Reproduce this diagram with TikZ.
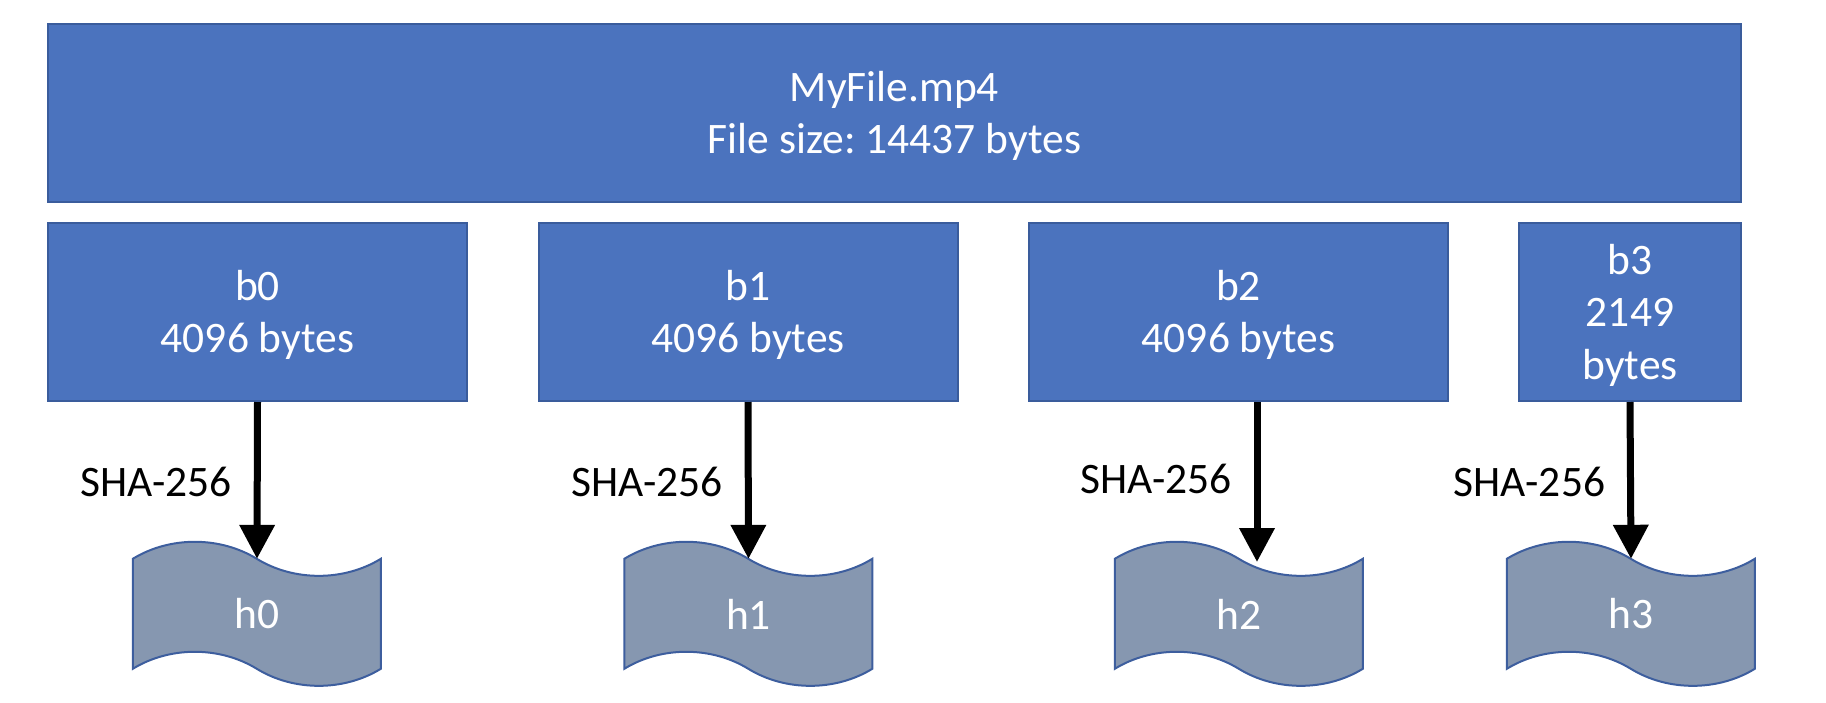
\documentclass[tikz,border=0pt]{standalone}
\usepackage{fontspec}
\setmainfont{Carlito}
\frenchspacing
\usetikzlibrary{arrows.meta,backgrounds}
\definecolor{boxblue}{HTML}{4B73BE}
\definecolor{boxedge}{HTML}{3A5C9C}
\definecolor{tapefill}{HTML}{8697B0}
\definecolor{tapeedge}{HTML}{3D5E9E}
\newcommand{\topst}{\rule{0pt}{37pt}}
\newcommand{\botst}{\rule[-8pt]{0pt}{8pt}}
\newcommand{\bigfont}{\fontsize{43.5}{52.5}\selectfont}
\tikzset{
  blockbox/.style={draw=boxedge, line width=2pt, fill=boxblue, text=white,
    inner sep=0pt, minimum height=178pt, align=center, font=\bigfont},
  tapebox/.style={inner sep=0pt, minimum width=248pt, minimum height=110pt,
    text=white, font=\bigfont},
  hasharrow/.style={line width=7pt, -{Triangle[length=34pt,width=34pt]}},
  hashlabel/.style={font=\bigfont, anchor=base east, inner sep=0pt, xshift=-22pt},
  tapeshape/.style={draw=tapeedge, line width=2pt, fill=tapefill},
}
\newcommand{\drawtape}[1]{%
  \begin{scope}[shift={(#1.north west)}]
    \path[tapeshape] (0,0) .. controls (37,-22.7) and (87,-22.7) .. (124,0)
      .. controls (161,22.7) and (211,22.7) .. (248,0)
      -- (248,110)
      .. controls (211,132.7) and (161,132.7) .. (124,110)
      .. controls (87,87.3) and (37,87.3) .. (0,110) -- cycle;
  \end{scope}}
\begin{document}
\begin{tikzpicture}[x=1pt,y=-1pt]
  \useasboundingbox (0,0) rectangle (1826,702);
  % file
  \node[blockbox, minimum width=1693pt] (file) at (894.5,113)
    {\topst MyFile.mp4\\File size: 14437 bytes\botst};
  % blocks
  \node[blockbox, minimum width=419pt] (b0) at (257.5,312) {\topst b0\\4096 bytes\botst};
  \node[blockbox, minimum width=419pt] (b1) at (748,312) {\topst b1\\4096 bytes\botst};
  \node[blockbox, minimum width=419pt] (b2) at (1238.5,312) {\topst b2\\4096 bytes\botst};
  \node[blockbox, minimum width=222pt] (b3) at (1630,312) {\topst b3\\2149\\bytes\botst};
  % hashes
  \node[tapebox] (h0) at (257,614) {h0};
  \node[tapebox] (h1) at (748.5,614) {h1};
  \node[tapebox] (h2) at (1239,614) {h2};
  \node[tapebox] (h3) at (1631,614) {h3};
  \begin{scope}[on background layer]
    \drawtape{h0}
    \drawtape{h1}
    \drawtape{h2}
    \drawtape{h3}
  \end{scope}
  % arrows
  \coordinate (t2) at (1257,562);
  \draw[hasharrow] (b0.south) -- (h0.north) node[hashlabel, pos=0.6] {SHA-256};
  \draw[hasharrow] (b1.south) -- (h1.north) node[hashlabel, pos=0.6] {SHA-256};
  \draw[hasharrow] (b2.south -| t2) -- (t2) node[hashlabel, pos=0.57] {SHA-256};
  \draw[hasharrow] (b3.south) -- (h3.north) node[hashlabel, pos=0.6] {SHA-256};
\end{tikzpicture}
\end{document}
